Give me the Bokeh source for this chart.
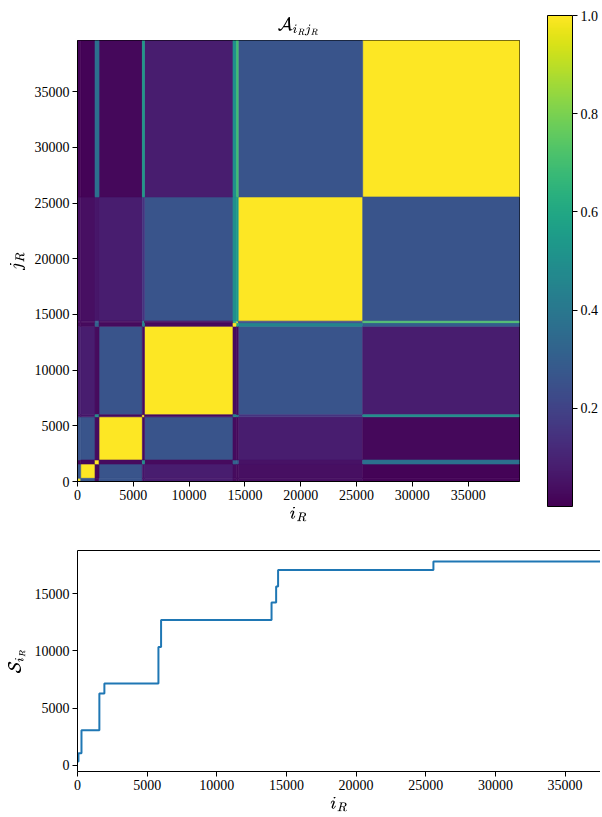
import numpy as np
from bokeh.plotting import figure
from bokeh.models import (ColumnDataSource, LinearColorMapper, FixedTicker, LinearAxis,
                          Range1d, NumeralTickFormatter, ColorBar)
from bokeh.palettes import Viridis256
from bokeh.transform import linear_cmap
from bokeh.embed import file_html
from bokeh.resources import INLINE

# ---------------- data ----------------
N = 39600
# block boundaries along i_R / j_R (same ordering on both axes)
block_edges = [0, 286, 1570, 1930, 5810, 6000, 13930, 14260, 14400, 25550, 39600]
# affinity between blocks: row = j_R block, column = i_R block
affinity = [
    [1.00, 0.27, 0.02, 0.26, 0.06, 0.08, 0.03, 0.03, 0.04, 0.01],
    [0.27, 1.00, 0.02, 0.26, 0.06, 0.08, 0.03, 0.03, 0.04, 0.01],
    [0.02, 0.02, 1.00, 0.03, 0.50, 0.03, 0.32, 0.30, 0.05, 0.37],
    [0.26, 0.26, 0.03, 1.00, 0.03, 0.26, 0.03, 0.03, 0.08, 0.02],
    [0.06, 0.06, 0.50, 0.03, 1.00, 0.03, 0.45, 0.45, 0.15, 0.50],
    [0.08, 0.08, 0.03, 0.26, 0.03, 1.00, 0.03, 0.03, 0.26, 0.08],
    [0.03, 0.03, 0.32, 0.03, 0.45, 0.03, 1.00, 0.60, 0.45, 0.30],
    [0.03, 0.03, 0.30, 0.03, 0.45, 0.03, 0.60, 1.00, 0.22, 0.72],
    [0.04, 0.04, 0.06, 0.08, 0.15, 0.26, 0.50, 0.55, 1.00, 0.26],
    [0.01, 0.01, 0.37, 0.02, 0.55, 0.08, 0.50, 0.70, 0.26, 1.00],
]
step_x = [0, 71, 286, 1570, 1930, 5810, 6000, 13930, 14260, 14400, 25550, 39600]
step_y = [346, 1067, 3087, 6286, 7150, 10350, 12716, 14245, 15629, 17070, 17820, 17820]
axis_ticks = [0, 5000, 10000, 15000, 20000, 25000, 30000, 35000]
s_ticks = [0, 5000, 10000, 15000]
cbar_ticks = [0.2, 0.4, 0.6, 0.8, 1.0]

TICK_FONT = "Liberation Serif"
TICK_SIZE = "14px"


def style_axis(ax, label_standoff=4):
    ax.axis_line_color = "black"
    ax.major_tick_line_color = "black"
    ax.minor_tick_line_color = None
    ax.major_tick_in = 0
    ax.major_tick_out = 5
    ax.major_label_text_font = TICK_FONT
    ax.major_label_text_font_size = TICK_SIZE
    ax.major_label_text_color = "black"
    ax.major_label_standoff = 3
    ax.axis_label_text_font_size = "14px"
    ax.axis_label_text_font_style = "normal"
    ax.axis_label_text_color = "black"
    ax.axis_label_standoff = label_standoff


# ---------------- heatmap ----------------
cells = []
nb = len(block_edges) - 1
for r in range(nb):
    for c in range(nb):
        w = block_edges[c + 1] - block_edges[c]
        h = block_edges[r + 1] - block_edges[r]
        cells.append((min(w, h), block_edges[c], block_edges[c + 1],
                      block_edges[r], block_edges[r + 1], affinity[r][c]))
cells.sort(key=lambda t: -t[0])  # thin strips drawn last
src = ColumnDataSource(dict(left=[t[1] for t in cells], right=[t[2] for t in cells],
                            bottom=[t[3] for t in cells], top=[t[4] for t in cells],
                            v=[t[5] for t in cells]))

p = figure(width=601, height=526, x_range=Range1d(0, N), y_range=Range1d(0, N),
           output_backend="svg", toolbar_location=None,
           min_border_left=77, min_border_right=10, min_border_top=40, min_border_bottom=45,
           title=r"$$\mathcal{A}_{i_R j_R}$$")
mapper = LinearColorMapper(palette=Viridis256, low=0.0, high=1.0)
cmap = linear_cmap("v", Viridis256, 0.0, 1.0)
p.quad(left="left", right="right", bottom="bottom", top="top", source=src,
       fill_color=cmap, line_color=cmap, line_width=0.6)
p.grid.visible = False
p.outline_line_color = "black"
p.outline_line_alpha = 1
p.title.align = "center"
p.title.text_font_size = "15px"
p.title.text_font_style = "normal"
p.title.text_color = "black"
p.xaxis.ticker = FixedTicker(ticks=axis_ticks)
p.yaxis.ticker = FixedTicker(ticks=axis_ticks)
p.xaxis.axis_label = r"$$i_R$$"
p.yaxis.axis_label = r"$$j_R$$"
for ax in p.xaxis:
    style_axis(ax)
for ax in p.yaxis:
    style_axis(ax, label_standoff=6)

cb = ColorBar(color_mapper=mapper, ticker=FixedTicker(ticks=cbar_ticks),
              formatter=NumeralTickFormatter(format="0.0"),
              location=(28, -25), width=25, height=491, padding=0, margin=0,
              bar_line_color="black", bar_line_alpha=1,
              major_tick_in=0, major_tick_out=5, major_tick_line_color="black",
              minor_tick_line_color=None,
              major_label_text_font=TICK_FONT, major_label_text_font_size=TICK_SIZE,
              major_label_text_color="black", label_standoff=3,
              border_line_color=None, background_fill_color=None)
p.add_layout(cb, "right")

# ---------------- step plot ----------------
ps = figure(width=600, height=289, x_range=Range1d(0, 37545), y_range=Range1d(-527, 18777),
            output_backend="svg", toolbar_location=None,
            min_border_left=77, min_border_right=0, min_border_top=24, min_border_bottom=42)
ps.step(step_x, step_y, mode="after", line_color="#1f77b4", line_width=2)
ps.grid.visible = False
ps.outline_line_color = None
bottom_ax = ps.below[0]
bottom_ax.ticker = FixedTicker(ticks=axis_ticks)
bottom_ax.axis_label = r"$$i_R$$"
style_axis(bottom_ax)
ps.yaxis.ticker = FixedTicker(ticks=s_ticks)
ps.yaxis.axis_label = r"$$\mathcal{S}_{i_R}$$"
for ax in ps.yaxis:
    style_axis(ax, label_standoff=6)
top_ax = LinearAxis(ticker=FixedTicker(ticks=[]), major_tick_line_color=None,
                    minor_tick_line_color=None, axis_line_color="black",
                    major_label_text_font_size="0px")
ps.add_layout(top_ax, "above")

# two independent roots so that the frames are not aligned to each other
open("out.html", "w").write(file_html([p, ps], INLINE))
